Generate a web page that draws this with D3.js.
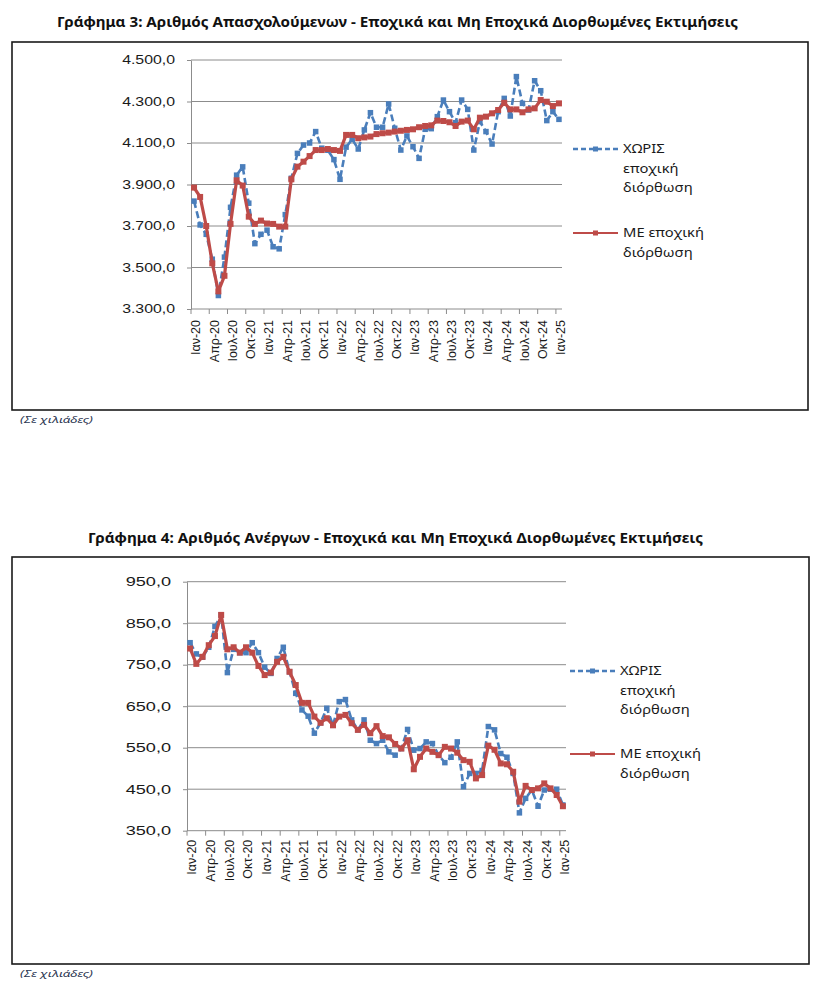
<!DOCTYPE html>
<html>
<head>
<meta charset="utf-8">
<script src="https://cdn.jsdelivr.net/npm/d3@7"></script>
<style>
  body { margin: 0; background: #fff; }
  svg { display: block; }
</style>
</head>
<body>
<svg id="c" width="824" height="981"></svg>
<script>
// ---------------- DATA ----------------
const monthNames = ["Ιαν","Φεβ","Μαρ","Απρ","Μαϊ","Ιουν","Ιουλ","Αυγ","Σεπ","Οκτ","Νοε","Δεκ"];
const years = ["20","21","22","23","24"];
const categories = [];
years.forEach(y => monthNames.forEach(m => categories.push(m + "-" + y)));
categories.push("Ιαν-25");

const tickLabels = ["Ιαν-20","Απρ-20","Ιουλ-20","Οκτ-20","Ιαν-21","Απρ-21","Ιουλ-21","Οκτ-21",
  "Ιαν-22","Απρ-22","Ιουλ-22","Οκτ-22","Ιαν-23","Απρ-23","Ιουλ-23","Οκτ-23",
  "Ιαν-24","Απρ-24","Ιουλ-24","Οκτ-24","Ιαν-25"];

// Employed (thousands) - without seasonal adjustment
const employedNSA = [3820,3705,3660,3540,3365,3550,3790,3945,3985,3810,3615,3660,
  3680,3600,3590,3755,3930,4050,4090,4100,4155,4075,4065,4020,
  3925,4080,4118,4071,4163,4246,4176,4176,4288,4171,4066,4134,
  4082,4026,4166,4169,4227,4307,4251,4198,4307,4262,4066,4203,
  4155,4095,4251,4315,4230,4420,4291,4259,4400,4352,4208,4251,
  4214];
// Employed - seasonally adjusted
const employedSA = [3885,3840,3700,3520,3385,3460,3710,3920,3895,3745,3710,3726,
  3712,3710,3697,3697,3925,3986,4010,4037,4066,4066,4071,4066,
  4062,4139,4139,4123,4127,4131,4143,4147,4150,4155,4159,4163,
  4166,4176,4182,4185,4208,4206,4200,4182,4203,4208,4166,4222,
  4227,4243,4259,4294,4262,4262,4248,4262,4267,4307,4299,4278,
  4291];
// Unemployed - without seasonal adjustment
const unemployedNSA = [803,776,768,792,842,870,731,787,779,779,803,779,
  744,729,765,792,733,681,641,626,585,610,645,604,
  661,666,617,593,617,568,560,568,540,532,548,594,
  544,548,564,560,532,514,527,564,456,488,488,495,
  601,593,536,527,488,393,428,448,409,448,450,450,
  412];
// Unemployed - seasonally adjusted
const unemployedSA = [789,752,769,797,819,870,787,792,779,792,779,747,
  725,731,757,769,733,701,658,658,625,610,621,604,
  625,629,609,593,605,585,602,578,575,559,548,568,
  498,528,548,540,532,552,548,538,520,516,476,484,
  555,545,512,510,492,420,458,448,452,464,452,436,
  409];

const employedTicks = [3300,3500,3700,3900,4100,4300,4500];
const unemployedTicks = [350,450,550,650,750,850,950];

const seriesNames = [["ΧΩΡΙΣ","εποχική","διόρθωση"],["ΜΕ εποχική","διόρθωση"]];
const titles = ["Γράφημα 3: Αριθμός Απασχολούμενων - Εποχικά και Μη Εποχικά Διορθωμένες Εκτιμήσεις",
                "Γράφημα 4: Αριθμός Ανέργων - Εποχικά και Μη Εποχικά Διορθωμένες Εκτιμήσεις"];
const noteText = "(Σε χιλιάδες)";

// ---------------- RENDER ----------------
const BLUE = "#4A7EBB", RED = "#BE4B48", GRID = "#8c8c8c";
const locale = d3.formatLocale({decimal: ",", thousands: ".", grouping: [3], currency: ["", "€"]});
const fmt = locale.format(",.1f");
const svg = d3.select("#c");

function stretch(sel, k) {
  sel.each(function() {
    const len = this.getComputedTextLength();
    d3.select(this).attr("textLength", len * k).attr("lengthAdjust", "spacingAndGlyphs");
  });
}
function fit(sel, w) {
  sel.attr("textLength", w).attr("lengthAdjust", "spacingAndGlyphs");
}

function drawChart(c) {
  const g = svg.append("g");

  // title
  g.append("text").attr("x", c.titleX).attr("y", c.titleY)
    .attr("font-family", "Noto Sans, sans-serif").attr("font-weight", "bold")
    .attr("font-size", 14).attr("fill", "#111").text(c.title)
    .call(fit, c.titleW);

  // frame
  g.append("rect").attr("x", c.box[0]).attr("y", c.box[1])
    .attr("width", c.box[2] - c.box[0]).attr("height", c.box[3] - c.box[1])
    .attr("fill", "none").attr("stroke", "#1a1a1a").attr("stroke-width", 1.6);

  // note
  g.append("text").attr("x", 20).attr("y", c.box[3] + 13)
    .attr("font-family", "Noto Sans, sans-serif").attr("font-style", "italic")
    .attr("font-size", 9.5).attr("fill", "#2a3550").text(noteText)
    .call(fit, 73);

  const x = d3.scaleBand().domain(categories).range([c.left, c.right]).padding(0);
  const bw = x.bandwidth();
  const y = d3.scaleLinear().domain(c.domain).range([c.bottom, c.top]);

  // grid
  g.append("g").selectAll("line").data(c.ticks.slice(1)).join("line")
    .attr("x1", c.left).attr("x2", c.right)
    .attr("y1", d => y(d)).attr("y2", d => y(d))
    .attr("stroke", GRID).attr("stroke-width", 1);

  // y axis
  const ya = g.append("g").attr("transform", `translate(${c.left},0)`)
    .call(d3.axisLeft(y).tickValues(c.ticks).tickFormat(fmt).tickSize(4).tickSizeOuter(0).tickPadding(12));
  ya.select(".domain").attr("stroke", GRID);
  ya.selectAll(".tick line").attr("stroke", GRID);
  ya.selectAll(".tick text").attr("font-family", "Liberation Sans, Arial, sans-serif")
    .attr("font-size", c.yFont).attr("fill", "#1a1a1a").call(stretch, c.yStretch);

  // x axis
  g.append("line").attr("x1", c.left).attr("x2", c.right)
    .attr("y1", c.bottom).attr("y2", c.bottom).attr("stroke", GRID);
  const tickIdx = tickLabels.map(l => categories.indexOf(l));
  g.append("g").selectAll("line").data(tickIdx).join("line")
    .attr("x1", i => x(categories[i])).attr("x2", i => x(categories[i]))
    .attr("y1", c.bottom).attr("y2", c.bottom + 5).attr("stroke", GRID);
  g.append("g").selectAll("text").data(tickLabels).join("text")
    .attr("transform", l => `translate(${x(l) + bw / 2 + 2},${c.bottom + c.xGap}) rotate(-90)`)
    .attr("text-anchor", "end").attr("dy", "0.35em")
    .attr("font-family", "Liberation Sans, Arial, sans-serif").attr("font-size", 12.5)
    .attr("fill", "#1a1a1a").text(l => l);

  const cx = d => x(d.c) + bw / 2;
  const series = [
    {vals: c.nsa, color: BLUE, dash: "7,3.5", w: 2.6, m: 5.5},
    {vals: c.sa, color: RED, dash: null, w: 3.2, m: 6}
  ];
  series.forEach(s => {
    const pts = s.vals.map((v, i) => ({c: categories[i], v}));
    g.append("path").datum(pts)
      .attr("d", d3.line().x(cx).y(d => y(d.v)))
      .attr("fill", "none").attr("stroke", s.color).attr("stroke-width", s.w)
      .attr("stroke-dasharray", s.dash).attr("stroke-linejoin", "round");
    g.append("g").selectAll("rect").data(pts).join("rect")
      .attr("x", d => cx(d) - s.m / 2).attr("y", d => y(d.v) - s.m / 2)
      .attr("width", s.m).attr("height", s.m).attr("fill", s.color);
  });

  // legend
  c.legendY.forEach((ly, si) => {
    const s = series[si];
    const lg = g.append("g");
    lg.append("line").attr("x1", c.legX).attr("x2", c.legX + 45)
      .attr("y1", ly).attr("y2", ly).attr("stroke", s.color)
      .attr("stroke-width", si === 0 ? 2.4 : 2.2).attr("stroke-dasharray", si === 0 ? "5,3" : null);
    lg.append("rect").attr("x", c.legX + 20).attr("y", ly - 2.5).attr("width", 5).attr("height", 5)
      .attr("fill", s.color);
    seriesNames[si].forEach((t, j) => {
      lg.append("text").attr("x", c.legX + 50).attr("y", ly + j * 19.5).attr("dy", "0.35em")
        .attr("font-family", "Noto Sans, sans-serif").attr("font-size", 12.5)
        .attr("fill", "#1a1a1a").text(t).call(stretch, 1.18);
    });
  });
}

drawChart({
  title: titles[0], titleX: 57, titleY: 27, titleW: 681,
  box: [12, 42, 808, 410],
  left: 191, right: 562, top: 60, bottom: 309,
  domain: [3300, 4500], ticks: employedTicks,
  nsa: employedNSA, sa: employedSA,
  yFont: 12, yStretch: 1.32, xGap: 11,
  legX: 573, legendY: [149, 233]
});

drawChart({
  title: titles[1], titleX: 88, titleY: 543, titleW: 615,
  box: [12, 557, 809, 964],
  left: 187, right: 566, top: 581.7, bottom: 830.7,
  domain: [350, 950], ticks: unemployedTicks,
  nsa: unemployedNSA, sa: unemployedSA,
  yFont: 12.5, yStretch: 1.45, xGap: 9,
  legX: 570, legendY: [671, 754]
});
</script>
</body>
</html>
